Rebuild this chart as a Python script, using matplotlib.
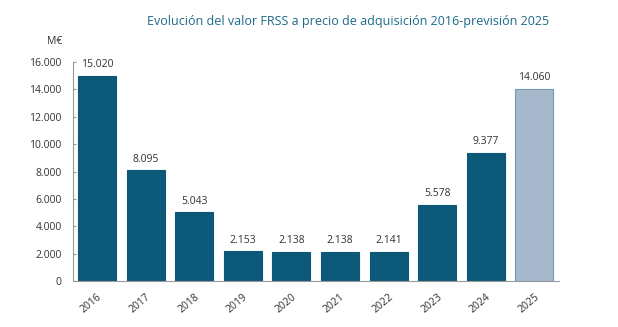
import matplotlib
matplotlib.use('Agg')
import matplotlib.pyplot as plt
from matplotlib.ticker import FuncFormatter

years = ['2016', '2017', '2018', '2019', '2020', '2021', '2022', '2023', '2024', '2025']
values = [15020, 8095, 5043, 2153, 2138, 2138, 2141, 5578, 9377, 14060]
yticks = [0, 2000, 4000, 6000, 8000, 10000, 12000, 14000, 16000]

plt.rcParams['font.family'] = ['Open Sans', 'DejaVu Sans']

def thousands(v, pos=None):
    return f'{int(v):,}'.replace(',', '.')

fig = plt.figure(figsize=(6.18, 3.27), dpi=100)
ax = fig.add_axes([0.1176, 0.141, 0.7865, 0.669])

dark = '#0b5878'
colors = [dark] * 9 + ['#a7b8cc']
edges = [dark] * 9 + ['#6e9bb8']
x = list(range(len(years)))
ax.bar(x, values, width=0.78, color=colors, edgecolor=edges, linewidth=0.8)

# value labels above each bar
for xi, v in zip(x, values):
    ax.text(xi, v + 380, thousands(v), ha='center', va='bottom', fontsize=7.5, color='#333333')

ax.set_xlim(-0.5, 9.5)
ax.set_ylim(0, 16000)
ax.set_yticks(yticks)
ax.yaxis.set_major_formatter(FuncFormatter(thousands))
ax.set_xticks(x)
ax.set_xticklabels(years, rotation=40, ha='right', rotation_mode='anchor')
ax.tick_params(axis='y', labelsize=7.5, labelcolor='#333333', color='#999999',
               direction='in', length=2.5, width=0.8, pad=8)
ax.tick_params(axis='x', labelsize=7.5, labelcolor='#333333', length=0, pad=8)

for side in ['top', 'right']:
    ax.spines[side].set_visible(False)
for side in ['left', 'bottom']:
    ax.spines[side].set_color('#999999')
    ax.spines[side].set_linewidth(0.8)

fig.text(0.563, 0.934, 'Evolución del valor FRSS a precio de adquisición 2016-previsión 2025',
         ha='center', va='center', fontsize=9.0, color='#1c6a8a')
fig.text(0.089, 0.872, 'M€', ha='center', va='center', fontsize=7.5, color='#333333')

fig.savefig('out.png', dpi=100)
